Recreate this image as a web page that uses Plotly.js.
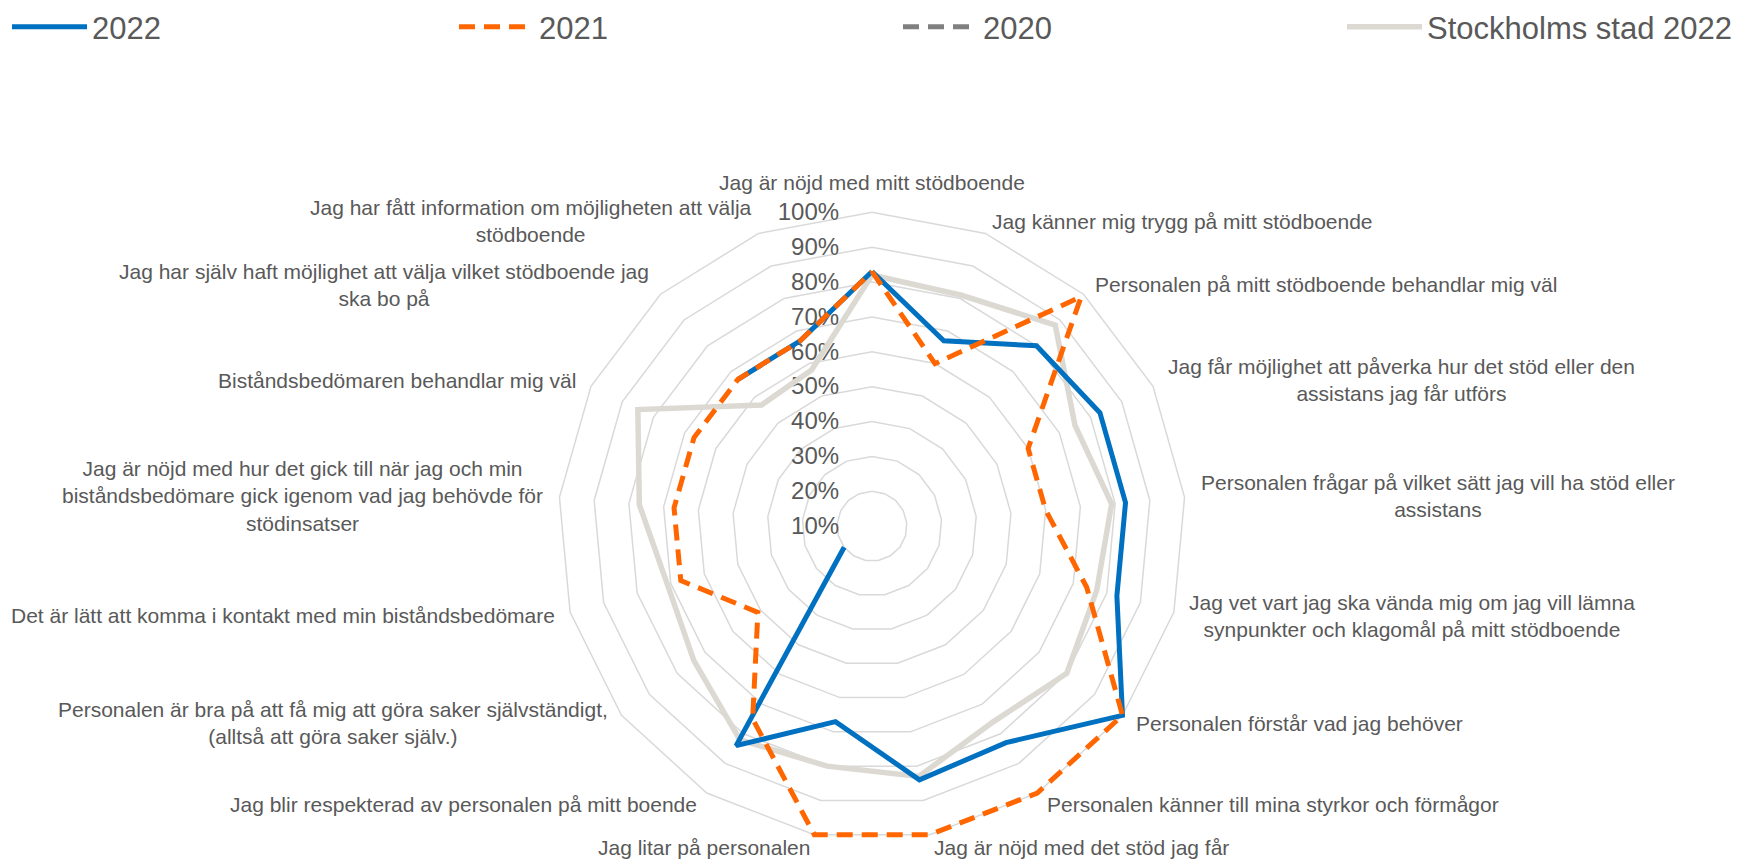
<!DOCTYPE html>
<html>
<head>
<meta charset="utf-8">
<script src="https://cdn.plot.ly/plotly-3.0.1.min.js"></script>
<style>
  html, body { margin: 0; padding: 0; background: #ffffff; }
  #chart { width: 1740px; height: 859px; }
</style>
</head>
<body>
<div id="chart"></div>
<script>
// Categories (clockwise from top)
const categories = [
  "Jag är nöjd med mitt stödboende",
  "Jag känner mig trygg på mitt stödboende",
  "Personalen på mitt stödboende behandlar mig väl",
  "Jag får möjlighet att påverka hur det stöd eller den assistans jag får utförs",
  "Personalen frågar på vilket sätt jag vill ha stöd eller assistans",
  "Jag vet vart jag ska vända mig om jag vill lämna synpunkter och klagomål på mitt stödboende",
  "Personalen förstår vad jag behöver",
  "Personalen känner till mina styrkor och förmågor",
  "Jag är nöjd med det stöd jag får",
  "Jag litar på personalen",
  "Jag blir respekterad av personalen på mitt boende",
  "Personalen är bra på att få mig att göra saker självständigt, (alltså att göra saker själv.)",
  "Det är lätt att komma i kontakt med min biståndsbedömare",
  "Jag är nöjd med hur det gick till när jag och min biståndsbedömare gick igenom vad jag behövde för stödinsatser",
  "Biståndsbedömaren behandlar mig väl",
  "Jag har själv haft möjlighet att välja vilket stödboende jag ska bo på",
  "Jag har fått information om möjligheten att välja stödboende"
];

// Category labels as displayed (with line breaks)
const tickLabels = [
  "Jag är nöjd med mitt stödboende",
  "Jag känner mig trygg på mitt stödboende",
  "Personalen på mitt stödboende behandlar mig väl",
  "Jag får möjlighet att påverka hur det stöd eller den<br>assistans jag får utförs",
  "Personalen frågar på vilket sätt jag vill ha stöd eller<br>assistans",
  "Jag vet vart jag ska vända mig om jag vill lämna<br>synpunkter och klagomål på mitt stödboende",
  "Personalen förstår vad jag behöver",
  "Personalen känner till mina styrkor och förmågor",
  "Jag är nöjd med det stöd jag får",
  "Jag litar på personalen",
  "Jag blir respekterad av personalen på mitt boende",
  "Personalen är bra på att få mig att göra saker självständigt,<br>(alltså att göra saker själv.)",
  "Det är lätt att komma i kontakt med min biståndsbedömare",
  "Jag är nöjd med hur det gick till när jag och min<br>biståndsbedömare gick igenom vad jag behövde för<br>stödinsatser",
  "Biståndsbedömaren behandlar mig väl",
  "Jag har själv haft möjlighet att välja vilket stödboende jag<br>ska bo på",
  "Jag har fått information om möjligheten att välja<br>stödboende"
];

// Series values (share, 0-1)
const v2022 = [0.83, 0.67, 0.80, 0.83, 0.83, 0.83, 1.00, 0.83, 0.84, 0.67, 0.84, 0.20, null, null, null, 0.67, 0.67];
const v2021 = [0.83, 0.60, 0.99, 0.60, 0.60, 0.74, 1.00, 1.00, 1.00, 1.00, 0.75, 0.51, 0.67, 0.67, 0.67, 0.67, 0.67];
const v2020 = [null, null, null, null, null, null, null, null, null, null, null, null, null, null, null, null, null];
const vStockholm = [0.82, 0.81, 0.88, 0.75, 0.79, 0.77, 0.80, 0.76, 0.83, 0.80, 0.82, 0.74, 0.71, 0.77, 0.85, 0.57, 0.58];

const seriesNames = ["2022", "2021", "2020", "Stockholms stad 2022"];
const radialTicks = [0.1, 0.2, 0.3, 0.4, 0.5, 0.6, 0.7, 0.8, 0.9, 1.0];

function closed(arr) { return arr.concat([arr[0]]); }
const thetaClosed = closed(categories);

const W = 1740, H = 859;
const cx = 872, cy = 525, R = 315;          // R = radius of the 100% ring
const rMin = 0.1, rTop = 1.0, rMax = 1.012; // small headroom so lines on the 100% ring are not clipped
const Rdom = R * (rMax - rMin) / (rTop - rMin);
const textColor = '#595959';

const traces = [
  {
    type: 'scatterpolar', mode: 'lines', name: seriesNames[3], legend: 'legend4',
    r: closed(vStockholm), theta: thetaClosed, cliponaxis: false,
    line: { color: '#DCD9D3', width: 5.5 }, connectgaps: false
  },
  {
    type: 'scatterpolar', mode: 'lines', name: seriesNames[2], legend: 'legend3',
    r: closed(v2020), theta: thetaClosed, cliponaxis: false,
    line: { color: '#808080', width: 5, dash: '16px,9px' }, connectgaps: false
  },
  {
    type: 'scatterpolar', mode: 'lines', name: seriesNames[0], legend: 'legend',
    r: closed(v2022), theta: thetaClosed, cliponaxis: false,
    line: { color: '#0070C0', width: 5 }, connectgaps: false
  },
  {
    type: 'scatterpolar', mode: 'lines', name: seriesNames[1], legend: 'legend2',
    r: closed(v2021), theta: thetaClosed, cliponaxis: false,
    line: { color: '#FF6600', width: 5, dash: '16px,9px' }, connectgaps: false
  }
];

// Category labels placed just outside the outer ring, along each category direction
const n = categories.length;
const annotations = tickLabels.map(function (txt, k) {
  const a = k * 2 * Math.PI / n;
  const s = Math.sin(a), c = Math.cos(a);
  const vx = cx + R * s, vy = cy - R * c;
  let xa, px, py;
  if (Math.abs(s) < 0.05) { xa = 'center'; px = vx; py = vy - 30; }
  else { xa = s > 0 ? 'left' : 'right'; px = vx + 13 * s; py = vy - 13 * c; }
  return {
    text: txt, xref: 'paper', yref: 'paper',
    x: px / W, y: 1 - py / H, xanchor: xa, yanchor: 'middle', align: 'center',
    showarrow: false, font: { size: 21, color: textColor }
  };
});

function legendAt(px) {
  return {
    orientation: 'h', x: px / W, y: 1.004, xanchor: 'left', yanchor: 'top',
    font: { size: 31, color: textColor }, itemwidth: 75, bgcolor: 'rgba(0,0,0,0)'
  };
}

const layout = {
  width: W, height: H,
  margin: { l: 0, r: 0, t: 0, b: 0 },
  paper_bgcolor: '#ffffff',
  font: { family: 'Liberation Sans, Arial, sans-serif', color: textColor },
  showlegend: true,
  legend: legendAt(7),
  legend2: legendAt(454),
  legend3: legendAt(898),
  legend4: legendAt(1342),
  annotations: annotations,
  polar: {
    domain: { x: [(cx - Rdom) / W, (cx + Rdom) / W], y: [(H - cy - Rdom) / H, (H - cy + Rdom) / H] },
    gridshape: 'linear',
    bgcolor: 'rgba(0,0,0,0)',
    radialaxis: {
      range: [rMin, rMax], tickvals: radialTicks, tickformat: '.0%',
      angle: 90, side: 'counterclockwise', tickangle: 90,
      showline: false, ticks: 'outside', ticklen: 24, tickcolor: 'rgba(0,0,0,0)',
      gridcolor: '#D9D9D9', gridwidth: 1.5, layer: 'below traces',
      tickfont: { size: 24, color: textColor }
    },
    angularaxis: {
      type: 'category', categoryarray: categories,
      direction: 'clockwise', rotation: 90, layer: 'below traces',
      showgrid: false, showline: false,
      ticks: '', showticklabels: false
    }
  }
};

Plotly.newPlot('chart', traces, layout, { displayModeBar: false, staticPlot: true });
</script>
</body>
</html>
